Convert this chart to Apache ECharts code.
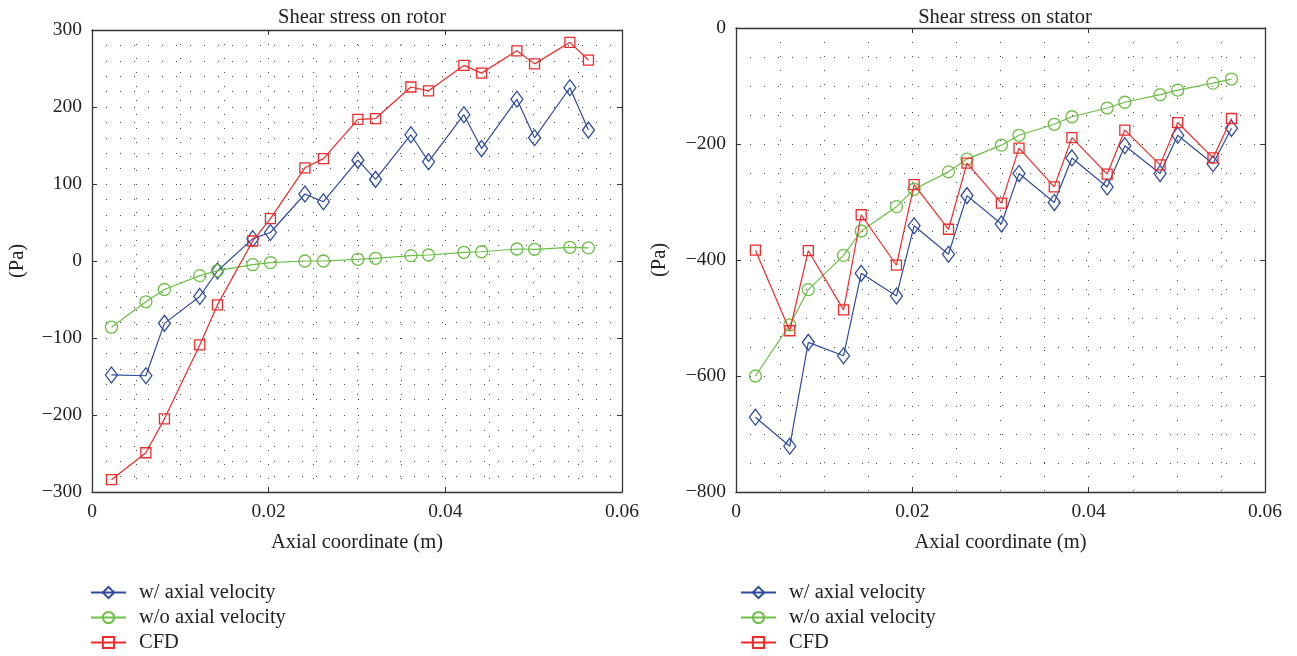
<!DOCTYPE html>
<html>
<head>
<meta charset="utf-8">
<script src="https://cdn.jsdelivr.net/npm/echarts@6/dist/echarts.min.js"></script>
<style>html,body{margin:0;padding:0;background:#fff}#c{width:1297px;height:656px}</style>
</head>
<body>
<div id="c"></div>
<script>
// ---- data ----
var xCoord = [0.0022, 0.0061, 0.0082, 0.0122, 0.0142, 0.0182, 0.0202, 0.0241, 0.0262, 0.0301, 0.0321, 0.0361, 0.0381, 0.0421, 0.0441, 0.0481, 0.0501, 0.0541, 0.0562];
var rotorWith   = [-148, -149, -81, -46, -13, 29, 37, 87, 77, 131, 106, 164, 129, 190, 146, 210, 160, 225, 170];
var rotorWithout= [-86, -53, -37, -19, -12.5, -4.8, -2, 0, 0, 2.2, 3.5, 7, 7.8, 11.3, 12, 15.6, 15.2, 17.8, 17];
var rotorCFD    = [-284, -249, -205, -109, -57, 26, 55, 121, 133, 184, 185, 226, 221, 254, 244, 273, 256, 284, 261];
var statorWith   = [-671, -721, -542, -565, -423, -462, -341, -390, -289, -338, -251, -301, -224, -274, -203, -251, -185, -234, -173];
var statorWithout= [-600, -512, -451, -392, -350, -308, -278, -248, -226, -202, -185, -166, -153, -138, -128, -115, -107, -95, -88];
var statorCFD    = [-383, -522, -384, -486, -322, -409, -270, -347, -233, -302, -207, -274, -189, -252, -176, -236, -163, -224, -156];
var seriesNames = ['w/ axial velocity', 'w/o axial velocity', 'CFD'];
var titles = ['Shear stress on rotor', 'Shear stress on stator'];

var colors = ['#2F4B9E', '#6CBE45', '#EE2B2B'];
var symbols = ['diamond', 'circle', 'rect'];
var symSizes = [[12, 16], 12, 10];
var FONT = 'Liberation Serif';

function pairs(ys) { return xCoord.map(function (x, i) { return [x, ys[i]]; }); }

var chart = echarts.init(document.getElementById('c'));
var grids = [
  {left: 92, top: 30, width: 530, height: 462},
  {left: 736, top: 28, width: 529, height: 464}
];
var yCfg = [
  {min: -300, max: 300, interval: 100, minor: 5, nameGap: 64},
  {min: -800, max: 0, interval: 200, minor: 4, nameGap: 66}
];
var dotted = {color: '#444', width: 1, type: [1, 13]};
var xAxes = [], yAxes = [], series = [];
grids.forEach(function (g, gi) {
  xAxes.push({
    gridIndex: gi, type: 'value', min: 0, max: 0.06, interval: 0.02,
    name: 'Axial coordinate (m)', nameLocation: 'middle', nameGap: 40,
    nameTextStyle: {fontFamily: FONT, fontSize: 20.5, color: '#222'},
    axisLine: {onZero: false, lineStyle: {color: '#333', width: 1.3}},
    axisTick: {inside: true, length: 5, lineStyle: {color: '#333'}},
    axisLabel: {margin: 10, fontFamily: FONT, fontSize: 19.5, color: '#222',
      formatter: function (v) { return v === 0 ? '0' : v.toFixed(2); }},
    splitLine: {show: true, lineStyle: dotted},
    minorTick: {show: false, splitNumber: 4},
    minorSplitLine: {show: true, lineStyle: dotted}
  });
  xAxes.push({
    gridIndex: gi, type: 'value', position: 'top', min: 0, max: 0.06, interval: 0.02,
    axisLine: {onZero: false, lineStyle: {color: '#333', width: 1.3}},
    axisTick: {inside: true, length: 5, lineStyle: {color: '#333'}},
    axisLabel: {show: false}, splitLine: {show: false}
  });
  var yc = yCfg[gi];
  yAxes.push({
    gridIndex: gi, type: 'value', min: yc.min, max: yc.max, interval: yc.interval,
    name: '(Pa)', nameLocation: 'middle', nameGap: yc.nameGap,
    nameTextStyle: {fontFamily: FONT, fontSize: 20.5, color: '#222'},
    axisLine: {show: true, onZero: false, lineStyle: {color: '#333', width: 1.3}},
    axisTick: {show: true, inside: true, length: 5, lineStyle: {color: '#333'}},
    axisLabel: {margin: 10, fontFamily: FONT, fontSize: 19.5, color: '#222',
      formatter: function (v) { return String(v).replace('-', '\u2212'); }},
    splitLine: {show: true, lineStyle: dotted},
    minorTick: {show: false, splitNumber: yc.minor},
    minorSplitLine: {show: true, lineStyle: dotted}
  });
  yAxes.push({
    gridIndex: gi, type: 'value', position: 'right', min: yc.min, max: yc.max, interval: yc.interval,
    axisLine: {show: true, onZero: false, lineStyle: {color: '#333', width: 1.3}},
    axisTick: {show: true, inside: true, length: 5, lineStyle: {color: '#333'}},
    axisLabel: {show: false}, splitLine: {show: false}
  });
  var dataSets = gi === 0 ? [rotorWith, rotorWithout, rotorCFD] : [statorWith, statorWithout, statorCFD];
  dataSets.forEach(function (d, si) {
    series.push({
      name: seriesNames[si], type: 'line', xAxisIndex: gi * 2, yAxisIndex: gi * 2,
      data: pairs(d), symbol: symbols[si], symbolSize: symSizes[si], showAllSymbol: true,
      lineStyle: {color: colors[si], width: 1.2},
      itemStyle: {color: 'rgba(255,255,255,0)', borderColor: colors[si], borderWidth: 1.3},
      emphasis: {disabled: true}, animation: false, z: 3 + si
    });
  });
});

var legendTops = [577, 602, 627];
var legendLefts = [85, 735];
var legends = [];
legendLefts.forEach(function (lx) {
  seriesNames.forEach(function (n, i) {
    legends.push({
      data: [n], orient: 'vertical', left: lx, top: legendTops[i], itemWidth: 35, itemHeight: 14, itemGap: 0,
      textStyle: {fontFamily: FONT, fontSize: 20.5, color: '#222', padding: [0, 0, 0, 8]}, selectedMode: false
    });
  });
});

chart.setOption({
  backgroundColor: '#fff',
  animation: false,
  title: [
    {text: titles[0], left: 357, top: 2, textAlign: 'center',
      textStyle: {fontFamily: FONT, fontSize: 20.5, fontWeight: 'normal', color: '#222'}},
    {text: titles[1], left: 1000, top: 2, textAlign: 'center',
      textStyle: {fontFamily: FONT, fontSize: 20.5, fontWeight: 'normal', color: '#222'}}
  ],
  legend: legends,
  grid: grids,
  xAxis: xAxes,
  yAxis: yAxes,
  series: series
});
</script>
</body>
</html>
